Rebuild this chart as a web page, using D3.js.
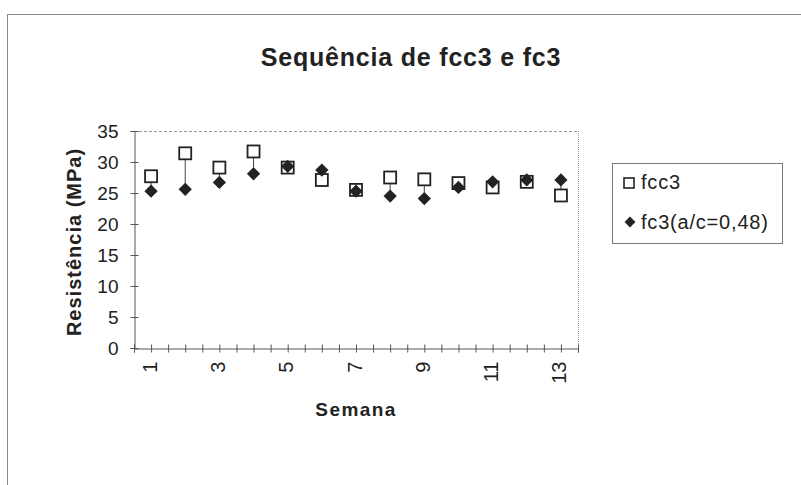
<!DOCTYPE html>
<html>
<head>
<meta charset="utf-8">
<script src="https://cdn.jsdelivr.net/npm/d3@7"></script>
<style>
  html, body { margin: 0; padding: 0; background: #fff; }
  svg { display: block; font-family: "Liberation Sans", Arial, sans-serif; }
</style>
</head>
<body>
<svg id="chart" width="801" height="485"></svg>
<script>
// Weekly compressive strength (MPa)
const weeks = [1, 2, 3, 4, 5, 6, 7, 8, 9, 10, 11, 12, 13];
const fcc3 = [27.7, 31.4, 29.1, 31.7, 29.1, 27.1, 25.5, 27.5, 27.2, 26.6, 25.9, 26.8, 24.6];
const fc3 = [25.3, 25.6, 26.7, 28.1, 29.3, 28.7, 25.3, 24.5, 24.1, 25.9, 26.8, 27.1, 27.1];
const yTicks = [0, 5, 10, 15, 20, 25, 30, 35];
const xLabels = [1, 3, 5, 7, 9, 11, 13];
const seriesNames = ["fcc3", "fc3(a/c=0,48)"];

const svg = d3.select("#chart");
const ink = "#222";

const plot = { left: 134, right: 578, top: 131, bottom: 348 };

// Outer chart frame
svg.append("rect")
  .attr("x", 7.5).attr("y", 14.5)
  .attr("width", 900).attr("height", 600)
  .attr("fill", "none").attr("stroke", "#888").attr("stroke-width", 1);

const x = d3.scaleLinear().domain([0.5, weeks.length + 0.5]).range([plot.left, plot.right]);
const y = d3.scaleLinear().domain([0, 35]).range([plot.bottom, plot.top]);

// Plot area border: dashed top, dotted right
svg.append("line")
  .attr("x1", plot.left).attr("x2", plot.right)
  .attr("y1", plot.top + 0.5).attr("y2", plot.top + 0.5)
  .attr("stroke", "#999").attr("stroke-dasharray", "3,2");
svg.append("line")
  .attr("x1", plot.right + 0.5).attr("x2", plot.right + 0.5)
  .attr("y1", plot.top).attr("y2", plot.bottom)
  .attr("stroke", "#999").attr("stroke-dasharray", "1,1");

// Y axis
const yAxis = svg.append("g")
  .attr("transform", `translate(${plot.left + 0.5},0)`)
  .call(d3.axisLeft(y).tickValues(yTicks).tickSize(4).tickPadding(12));
yAxis.select(".domain").attr("stroke", "#555");
yAxis.selectAll(".tick line").attr("x1", 4).attr("stroke", "#555");
yAxis.selectAll(".tick text")
  .attr("font-size", 19).attr("fill", ink)
  .attr("font-family", "Liberation Sans, Arial, sans-serif");

// X axis: ticks at band edges and centres, labels on odd weeks
const halfSteps = d3.range(0.5, weeks.length + 0.75, 0.5);
const xAxis = svg.append("g")
  .attr("transform", `translate(0,${plot.bottom + 0.5})`)
  .call(d3.axisBottom(x).tickValues(halfSteps).tickSize(4)
    .tickFormat(d => xLabels.includes(d) ? String(d) : ""));
xAxis.select(".domain").attr("stroke", "#555");
xAxis.selectAll(".tick line").attr("y1", -4).attr("stroke", "#555");
xAxis.selectAll(".tick text")
  .attr("font-size", 20).attr("fill", ink)
  .attr("font-family", "Liberation Sans, Arial, sans-serif")
  .attr("text-anchor", "end")
  .attr("dy", "0.35em")
  .attr("transform", "translate(-2,13) rotate(-90)")
  .attr("x", 0).attr("y", 0);

// High-low connectors between the two series
svg.append("g").selectAll("line")
  .data(weeks)
  .join("line")
  .attr("x1", (d) => x(d)).attr("x2", (d) => x(d))
  .attr("y1", (d, i) => y(fcc3[i])).attr("y2", (d, i) => y(fc3[i]))
  .attr("stroke", "#444").attr("stroke-width", 1);

// fcc3: open squares
const sq = 12;
svg.append("g").selectAll("rect")
  .data(weeks)
  .join("rect")
  .attr("x", d => x(d) - sq / 2).attr("y", (d, i) => y(fcc3[i]) - sq / 2)
  .attr("width", sq).attr("height", sq)
  .attr("fill", "#fff").attr("stroke", ink).attr("stroke-width", 1.8);

// fc3: filled diamonds
const diamond = d3.symbol().type(d3.symbolDiamond2).size(112);
svg.append("g").selectAll("path")
  .data(weeks)
  .join("path")
  .attr("d", diamond)
  .attr("transform", (d, i) => `translate(${x(d)},${y(fc3[i])})`)
  .attr("fill", ink);

// Title
svg.append("text")
  .attr("x", 411).attr("y", 66)
  .attr("text-anchor", "middle")
  .attr("font-size", 25).attr("font-weight", "bold").attr("fill", ink)
  .attr("letter-spacing", 0.8)
  .text("Sequência de fcc3 e fc3");

// Axis titles
svg.append("text")
  .attr("x", (plot.left + plot.right) / 2).attr("y", 416)
  .attr("text-anchor", "middle")
  .attr("font-size", 19).attr("font-weight", "bold").attr("fill", ink)
  .attr("letter-spacing", 1.4)
  .text("Semana");
svg.append("text")
  .attr("transform", "translate(81,242) rotate(-90)")
  .attr("text-anchor", "middle")
  .attr("font-size", 20).attr("font-weight", "bold").attr("fill", ink)
  .attr("letter-spacing", 1)
  .text("Resistência (MPa)");

// Legend
const legend = svg.append("g");
legend.append("rect")
  .attr("x", 612.5).attr("y", 163.5).attr("width", 170).attr("height", 80)
  .attr("fill", "#fff").attr("stroke", "#777").attr("stroke-width", 1);
legend.append("rect")
  .attr("x", 624).attr("y", 178).attr("width", 10).attr("height", 10)
  .attr("fill", "#fff").attr("stroke", ink).attr("stroke-width", 1.6);
legend.append("path")
  .attr("d", d3.symbol().type(d3.symbolDiamond2).size(75))
  .attr("transform", "translate(630,222)")
  .attr("fill", ink);
legend.selectAll("text.lbl")
  .data(seriesNames)
  .join("text")
  .attr("class", "lbl")
  .attr("x", (d, i) => i === 0 ? 641 : 641)
  .attr("y", (d, i) => i === 0 ? 189 : 229)
  .attr("font-size", 20).attr("fill", ink)
  .attr("letter-spacing", 0.8)
  .text(d => d);
</script>
</body>
</html>
